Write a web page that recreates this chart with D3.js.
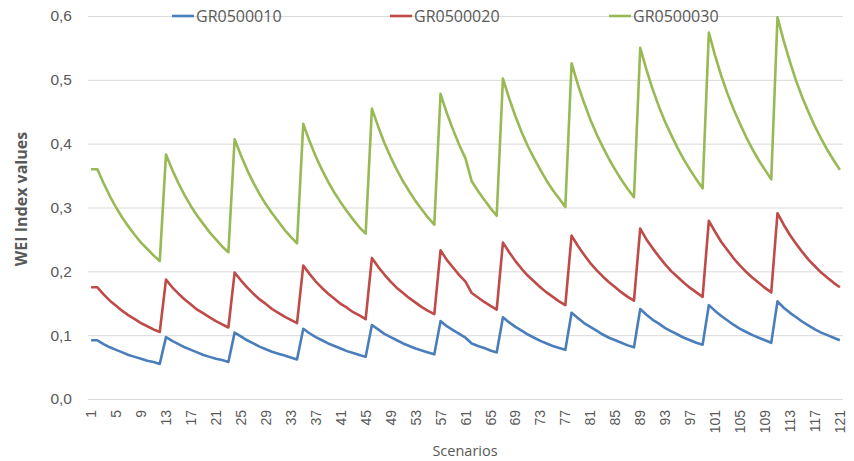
<!DOCTYPE html>
<html>
<head>
<meta charset="utf-8">
<script src="https://cdn.jsdelivr.net/npm/d3@7"></script>
<style>
  html, body { margin: 0; padding: 0; background: #fff; }
  svg { display: block; font-family: "Open Sans", "Noto Sans", sans-serif; }
</style>
</head>
<body>
<svg id="chart" width="854" height="461"></svg>
<script>
// ---- Data ----
const scenarios = d3.range(1, 122);
const seriesNames = ["GR0500010", "GR0500020", "GR0500030"];
const yTickValues = [0, 0.1, 0.2, 0.3, 0.4, 0.5, 0.6];
const yTickLabels = ["0,0", "0,1", "0,2", "0,3", "0,4", "0,5", "0,6"];
const xTickLabels = [1,5,9,13,17,21,25,29,33,37,41,45,49,53,57,61,65,69,73,77,81,85,89,93,97,101,105,109,113,117,121];

const gr0500010 = [
  0.092,
  0.092, 0.086, 0.081, 0.077, 0.073, 0.069, 0.066, 0.063, 0.060, 0.058, 0.055,
  0.097, 0.091, 0.086, 0.081, 0.077, 0.073, 0.069, 0.066, 0.063, 0.061, 0.058,
  0.104, 0.098, 0.092, 0.087, 0.082, 0.078, 0.074, 0.071, 0.068, 0.065, 0.062,
  0.110, 0.103, 0.097, 0.092, 0.087, 0.083, 0.079, 0.075, 0.072, 0.069, 0.066,
  0.116, 0.109, 0.102, 0.097, 0.092, 0.087, 0.083, 0.079, 0.076, 0.073, 0.070,
  0.122, 0.114, 0.108, 0.102, 0.096, 0.087, 0.083, 0.080, 0.076, 0.073,
  0.128, 0.120, 0.113, 0.107, 0.101, 0.096, 0.091, 0.087, 0.083, 0.080, 0.077,
  0.135, 0.127, 0.119, 0.113, 0.107, 0.101, 0.096, 0.092, 0.088, 0.084, 0.081,
  0.141, 0.132, 0.124, 0.118, 0.111, 0.106, 0.101, 0.096, 0.092, 0.088, 0.085,
  0.147, 0.138, 0.130, 0.123, 0.116, 0.110, 0.105, 0.100, 0.096, 0.092, 0.088,
  0.153, 0.143, 0.135, 0.128, 0.121, 0.115, 0.109, 0.104, 0.100, 0.096, 0.092
];
const gr0500020 = [
  0.175,
  0.175, 0.164, 0.154, 0.146, 0.138, 0.131, 0.125, 0.119, 0.114, 0.109, 0.105,
  0.187, 0.175, 0.165, 0.156, 0.148, 0.140, 0.134, 0.128, 0.122, 0.117, 0.112,
  0.198, 0.186, 0.175, 0.165, 0.156, 0.149, 0.141, 0.135, 0.129, 0.124, 0.119,
  0.209, 0.196, 0.184, 0.174, 0.165, 0.157, 0.149, 0.143, 0.136, 0.131, 0.125,
  0.221, 0.207, 0.195, 0.184, 0.174, 0.166, 0.158, 0.151, 0.144, 0.138, 0.133,
  0.233, 0.218, 0.206, 0.194, 0.184, 0.166, 0.159, 0.152, 0.146, 0.140,
  0.245, 0.230, 0.216, 0.204, 0.193, 0.184, 0.175, 0.167, 0.160, 0.153, 0.147,
  0.256, 0.240, 0.226, 0.213, 0.202, 0.192, 0.183, 0.175, 0.167, 0.160, 0.154,
  0.267, 0.250, 0.236, 0.223, 0.211, 0.200, 0.191, 0.182, 0.174, 0.167, 0.160,
  0.279, 0.262, 0.246, 0.233, 0.220, 0.209, 0.199, 0.190, 0.182, 0.174, 0.167,
  0.291, 0.273, 0.257, 0.243, 0.230, 0.218, 0.208, 0.198, 0.190, 0.182, 0.175
];
const gr0500030 = [
  0.360,
  0.360, 0.338, 0.318, 0.300, 0.284, 0.270, 0.257, 0.245, 0.235, 0.225, 0.216,
  0.383, 0.359, 0.338, 0.319, 0.302, 0.287, 0.274, 0.261, 0.250, 0.239, 0.230,
  0.407, 0.382, 0.359, 0.339, 0.321, 0.305, 0.291, 0.278, 0.265, 0.254, 0.244,
  0.431, 0.404, 0.380, 0.359, 0.340, 0.323, 0.308, 0.294, 0.281, 0.269, 0.259,
  0.455, 0.427, 0.401, 0.379, 0.359, 0.341, 0.325, 0.310, 0.297, 0.284, 0.273,
  0.478, 0.448, 0.422, 0.398, 0.377, 0.341, 0.326, 0.312, 0.299, 0.287,
  0.502, 0.471, 0.443, 0.418, 0.396, 0.377, 0.359, 0.342, 0.327, 0.314, 0.301,
  0.526, 0.493, 0.464, 0.438, 0.415, 0.395, 0.376, 0.359, 0.343, 0.329, 0.316,
  0.550, 0.516, 0.485, 0.458, 0.434, 0.413, 0.393, 0.375, 0.359, 0.344, 0.330,
  0.574, 0.538, 0.506, 0.478, 0.453, 0.431, 0.410, 0.391, 0.374, 0.359, 0.344,
  0.598, 0.561, 0.528, 0.498, 0.472, 0.449, 0.427, 0.408, 0.390, 0.374, 0.359
];
const seriesColors = ["#4a7ebb", "#be4b48", "#98b954"];

const series = [gr0500010, gr0500020, gr0500030].map((vals, i) => ({
  name: seriesNames[i], color: seriesColors[i], values: vals
}));

// ---- Layout ----
const svg = d3.select("#chart");
const plot = { left: 88, right: 843, top: 16, bottom: 399 };
const textColor = "#595959";

const x = d3.scaleBand().domain(scenarios).range([plot.left, plot.right]).padding(0);
const cx = d => x(d) + x.bandwidth() / 2;
const y = d3.scaleLinear().domain([0, 0.6]).range([plot.bottom, plot.top]);

// Gridlines + y labels
const yAxis = d3.axisLeft(y)
  .tickValues(yTickValues)
  .tickSize(-(plot.right - plot.left))
  .tickPadding(16)
  .tickFormat((d, i) => yTickLabels[i]);
const gy = svg.append("g").attr("transform", `translate(${plot.left},0)`).call(yAxis);
gy.select(".domain").remove();
gy.selectAll(".tick line").attr("stroke", "#d9d9d9").attr("stroke-width", 1);
gy.selectAll(".tick text")
  .attr("fill", textColor)
  .style("font-size", "15.5px")
  .attr("x", -16);

// X axis labels
const xAxis = d3.axisBottom(x)
  .tickValues(xTickLabels)
  .tickSize(0)
  .tickFormat(d => String(d));
const gx = svg.append("g").attr("transform", `translate(0,${plot.bottom})`).call(xAxis);
gx.select(".domain").remove();
gx.selectAll(".tick text")
  .attr("fill", textColor)
  .style("font-size", "14px")
  .attr("text-anchor", "end")
  .attr("transform", "rotate(-90)")
  .attr("x", -11)
  .attr("y", 0)
  .attr("dy", "0.36em");

// Lines
const line = d3.line()
  .x((d, i) => cx(scenarios[i]))
  .y(d => y(d));

svg.append("g").selectAll("path")
  .data(series)
  .join("path")
  .attr("fill", "none")
  .attr("stroke", d => d.color)
  .attr("stroke-width", 2.6)
  .attr("stroke-linejoin", "round")
  .attr("d", d => line(d.values));

// Legend
const legendX = [172, 390, 609];
const lg = svg.append("g").selectAll("g")
  .data(series)
  .join("g")
  .attr("transform", (d, i) => `translate(${legendX[i]},16)`);
lg.append("line")
  .attr("x1", 0).attr("x2", 22).attr("y1", 0).attr("y2", 0)
  .attr("stroke", d => d.color).attr("stroke-width", 2.6);
lg.append("text")
  .attr("x", 24).attr("y", 0).attr("dy", "0.36em")
  .attr("fill", textColor)
  .style("font-size", "16px")
  .text(d => d.name);

// Axis titles
svg.append("text")
  .attr("transform", "translate(27,199) rotate(-90)")
  .attr("text-anchor", "middle")
  .attr("fill", textColor)
  .style("font-size", "16px")
  .style("font-weight", "bold")
  .text("WEI Index values");

svg.append("text")
  .attr("x", 465).attr("y", 456)
  .attr("text-anchor", "middle")
  .attr("fill", textColor)
  .style("font-size", "14.5px")
  .text("Scenarios");
</script>
</body>
</html>
